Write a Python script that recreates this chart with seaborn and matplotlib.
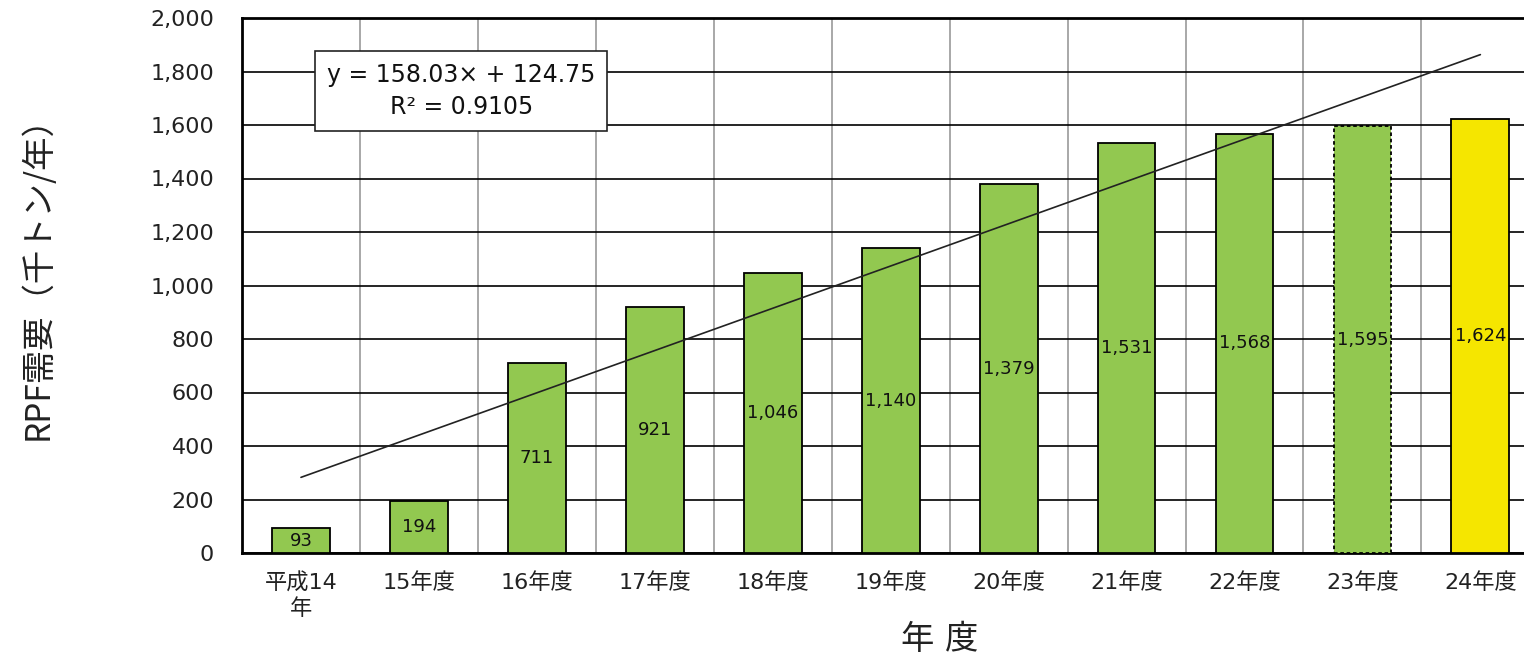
import numpy as np
import pandas as pd
import matplotlib
matplotlib.use("Agg")
import matplotlib.pyplot as plt
import seaborn as sns

# Data
years = ["平成14\n年", "15年度", "16年度", "17年度", "18年度", "19年度",
         "20年度", "21年度", "22年度", "23年度", "24年度"]
demand = [93, 194, 711, 921, 1046, 1140, 1379, 1531, 1568, 1595, 1624]
bar_colors = ["#92C850"] * 10 + ["#F5E600"]
slope, intercept = 158.03, 124.75
r2 = 0.9105

df = pd.DataFrame({"year": years, "demand": demand})

sns.set_style("white")
plt.rcParams["font.family"] = ["DejaVu Sans", "Noto Sans CJK JP"]

fig = plt.figure(figsize=(15.24, 6.61), dpi=100)
ax = fig.add_axes([242 / 1524, 108 / 661, 1 - 242 / 1524, (553 - 18) / 661])

sns.barplot(data=df, x="year", y="demand", hue="year", palette=bar_colors,
            legend=False, width=0.49, edgecolor="black", linewidth=1.3,
            saturation=1, ax=ax, zorder=3)

# 23年度 bar has dotted outline
ax.patches[9].set_linestyle((0, (2, 1.5)))

# value labels in the middle of each bar
for i, v in enumerate(demand):
    ax.text(i, v / 2, f"{v:,}", ha="center", va="center", fontsize=13,
            color="#111111", zorder=5)

# linear trend line
xs = np.arange(len(demand))
ax.plot(xs, slope * (xs + 1) + intercept, color="#222222", lw=1.2, zorder=4)

ax.text(1.36, 1727, f"y = {slope:.2f}× + {intercept:.2f}\nR² = {r2}",
        ha="center", va="center", fontsize=17, linespacing=1.4, zorder=6,
        color="#111111",
        bbox=dict(boxstyle="square,pad=0.5", fc="white", ec="#222222", lw=1.2))

ax.set_ylim(0, 2000)
ax.set_xlim(-0.5, 10.37)
ax.set_yticks(range(0, 2001, 200))
ax.yaxis.set_major_formatter(matplotlib.ticker.StrMethodFormatter("{x:,.0f}"))
ax.set_xticks(np.arange(-0.5, 10.5, 1), minor=True)
ax.grid(axis="y", which="major", color="black", lw=1.2, zorder=0)
ax.grid(axis="x", which="minor", color="#999999", lw=1.2, zorder=0)
ax.grid(axis="x", which="major", visible=False)
ax.tick_params(axis="x", which="minor", length=0)
ax.tick_params(axis="both", which="major", length=0, labelsize=16,
               labelcolor="#222222")
ax.tick_params(axis="x", pad=14)
ax.tick_params(axis="y", pad=20)
for lab in ax.get_xticklabels():
    lab.set_linespacing(1.3)

for s in ["left", "bottom", "top"]:
    ax.spines[s].set_color("black")
    ax.spines[s].set_linewidth(2)
ax.spines["right"].set_visible(False)

ax.set_xlabel("年 度", fontsize=24, color="#222222", va="center")
ax.xaxis.set_label_coords((940 - 242) / (1524 - 242), -(640 - 553) / 535)
ax.set_ylabel("RPF需要（千トン/年）", fontsize=24, color="#222222",
              family=["Noto Sans CJK JP", "DejaVu Sans"], va="center", ha="center")
ax.yaxis.set_label_coords(-(242 - 38) / (1524 - 242), (553 - 270) / 535)

plt.savefig("out.png", dpi=100)
